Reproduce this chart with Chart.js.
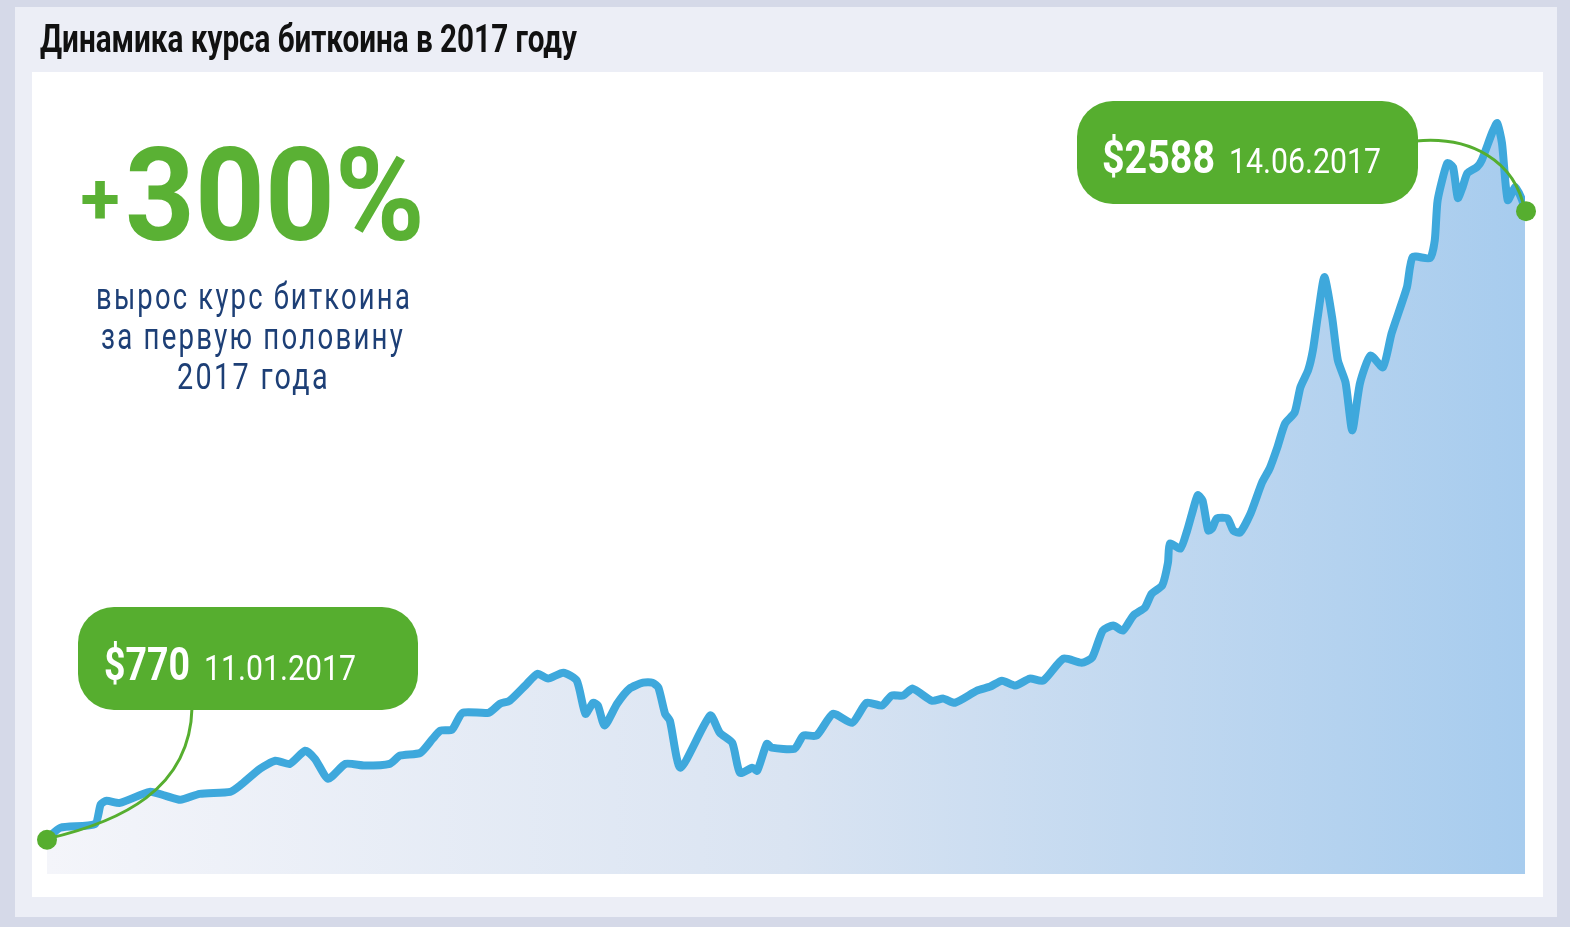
<!DOCTYPE html>
<html lang="ru">
<head>
<meta charset="utf-8">
<title>Динамика курса биткоина в 2017 году</title>
<script src="https://cdn.jsdelivr.net/npm/chart.js@4.4.1/dist/chart.umd.min.js"></script>
<style>
    body { margin: 0; background: #d5d9e8; }
    #btcChart { display: block; }
</style>
</head>
<body>
<canvas id="btcChart" width="1570" height="927"></canvas>
<script>
const chart = document.getElementById('btcChart').getContext('2d');

// days since 11.01.2017 and the price in $
const days = [
    0, 1.4, 5.0, 5.6, 6.2, 7.6, 10.7, 12.3, 13.9, 15.9, 19.1, 20.1, 22.2, 23.8, 25.3, 26.9, 27.9, 29.3,
    31.1, 33.1, 35.7, 36.8, 38.9, 40.2, 41.0, 42.2, 43.3, 46.0, 47.2, 48.2, 50.0, 51.1, 52.2, 53.8,
    55.2, 56.1, 56.9, 57.4, 58.1, 59.4, 60.7, 62.1, 63.1, 63.7, 64.4, 64.9, 66.0, 69.1, 70.1, 71.4,
    72.2, 73.5, 74.0, 75.0, 75.5, 77.9, 78.8, 80.2, 81.9, 83.9, 85.4, 87.0, 88.0, 89.2, 90.2, 92.2,
    93.4, 94.6, 96.9, 98.3, 99.5, 100.9, 102.4, 103.8, 105.9, 107.8, 108.9, 110.0, 111.1, 112.1,
    113.2, 114.4, 115.1, 116.2, 116.8, 117.0, 118.1, 118.8, 119.3, 119.9, 120.4, 121.0, 121.4, 121.9,
    123.0, 123.6, 124.3, 125.4, 126.6, 127.4, 128.2, 129.0, 130.0, 130.6, 131.4, 131.9, 132.4, 133.1,
    133.9, 134.5, 135.3, 136.0, 136.8, 137.9, 139.2, 140.1, 141.7, 142.3, 144.1, 144.6, 144.9, 145.9,
    146.5, 147.0, 147.5, 148.0, 149.0, 149.5, 150.6, 151.1, 151.6, 152.2, 153.0, 153.7, 154
];
const prices = [
    770, 802, 813, 870, 880, 874, 906, 895, 883, 900, 906, 924, 973, 996, 987, 1025, 1002, 944,
    987, 982, 987, 1011, 1019, 1060, 1083, 1086, 1135, 1135, 1161, 1170, 1219, 1248, 1234, 1251,
    1228, 1132, 1164, 1156, 1098, 1161, 1205, 1222, 1222, 1208, 1132, 1112, 976, 1127, 1077, 1048,
    961, 976, 967, 1045, 1034, 1031, 1069, 1069, 1132, 1106, 1164, 1156, 1185, 1185, 1205, 1170,
    1176, 1164, 1199, 1211, 1228, 1214, 1234, 1228, 1292, 1280, 1295, 1373, 1388, 1373,
    1417, 1440, 1480, 1504, 1570, 1625, 1611, 1663, 1712, 1765, 1750, 1663, 1669, 1698,
    1698, 1663, 1657, 1712, 1802, 1843, 1904, 1973, 2005, 2078, 2127, 2185, 2281, 2397,
    2281, 2156, 2092, 1953, 2089, 2170, 2136, 2234, 2368, 2455, 2452, 2504, 2620, 2727,
    2716, 2626, 2658, 2698, 2716, 2736, 2817, 2843, 2785, 2620, 2658, 2620, 2588
];

// texts
const titleText = 'Динамика курса биткоина в 2017 году';
const bigText = '300%';
const subLines = ['вырос курс биткоина', 'за первую половину', '2017 года'];
const startPrice = '$770';
const startDate = '11.01.2017';
const endPrice = '$2588';
const endDate = '14.06.2017';

const GREEN = '#56ae2f';
const NAVY = '#1d3f76';
// no condensed face here, so a normal one gets squeezed to width
const FACE = 'Roboto, "Liberation Sans", sans-serif';

// squeeze a text into a given width (the picture uses a condensed face)
function fitText(ctx, text, x, y, width, font, color, spacing) {
    ctx.save();
    ctx.font = font;
    ctx.letterSpacing = spacing || '0px';
    const w = ctx.measureText(text).width;
    ctx.translate(x, y);
    ctx.scale(width / w, 1);
    ctx.fillStyle = color;
    ctx.textBaseline = 'alphabetic';
    ctx.textAlign = 'left';
    ctx.fillText(text, 0, 0);
    ctx.restore();
}

// grey frame + white card behind everything
const backgroundPlugin = {
    id: 'cardBackground',
    beforeDraw(c) {
        const ctx = c.ctx;
        ctx.save();
        ctx.fillStyle = '#d5d9e8';
        ctx.fillRect(0, 0, c.width, c.height);
        ctx.fillStyle = '#eceef6';
        ctx.fillRect(15, 7, 1542, 910);
        ctx.fillStyle = '#ffffff';
        ctx.fillRect(32, 72, 1511, 825);
        ctx.restore();
        fitText(ctx, titleText, 40, 52, 537, 'bold 38px ' + FACE, '#111111');
    }
};

// green callouts, connectors, big +300% and the caption
const calloutPlugin = {
    id: 'callouts',
    afterDatasetsDraw(c) {
        const ctx = c.ctx;
        const xs = c.scales.x;
        const ys = c.scales.y;
        const last = days.length - 1;
        const p0 = { x: xs.getPixelForValue(days[0]), y: ys.getPixelForValue(prices[0]) };
        const p1 = { x: xs.getPixelForValue(days[last]), y: ys.getPixelForValue(prices[last]) };

        ctx.save();
        // boxes
        ctx.fillStyle = GREEN;
        ctx.beginPath();
        ctx.roundRect(78, 607, 340, 103, 36);
        ctx.fill();
        ctx.beginPath();
        ctx.roundRect(1077, 101, 341, 103, 36);
        ctx.fill();

        // connector lines
        ctx.strokeStyle = GREEN;
        ctx.lineWidth = 3;
        ctx.beginPath();
        ctx.moveTo(192, 708);
        ctx.bezierCurveTo(190, 790, 120, 822, p0.x, p0.y);
        ctx.stroke();
        ctx.beginPath();
        ctx.moveTo(1416, 141);
        ctx.bezierCurveTo(1470, 136, 1515, 160, p1.x, p1.y);
        ctx.stroke();

        // dots on first / last point
        ctx.fillStyle = GREEN;
        ctx.beginPath();
        ctx.arc(p0.x, p0.y + 1, 10, 0, Math.PI * 2);
        ctx.fill();
        ctx.beginPath();
        ctx.arc(p1.x + 1, p1.y, 10, 0, Math.PI * 2);
        ctx.fill();
        ctx.restore();

        // callout labels
        fitText(ctx, startPrice, 104, 680, 86, 'bold 46px ' + FACE, '#ffffff');
        fitText(ctx, startDate, 204, 680, 152, '35px ' + FACE, '#ffffff');
        fitText(ctx, endPrice, 1102, 173, 113, 'bold 46px ' + FACE, '#ffffff');
        fitText(ctx, endDate, 1229, 173, 152, '35px ' + FACE, '#ffffff');

        // +300%
        ctx.save();
        ctx.font = 'bold 72px ' + FACE;
        ctx.fillStyle = '#5ab134';
        ctx.textAlign = 'center';
        ctx.fillText('+', 100, 224);
        ctx.restore();
        fitText(ctx, bigText, 125, 240, 300, 'bold 130px ' + FACE, '#5ab134');

        // caption under it
        fitText(ctx, subLines[0], 96, 309, 316, '37px ' + FACE, NAVY, '3px');
        fitText(ctx, subLines[1], 101, 349, 304, '37px ' + FACE, NAVY, '3px');
        fitText(ctx, subLines[2], 177, 389, 153, '37px ' + FACE, NAVY, '3px');
    }
};

const points = days.map((d, i) => ({ x: d, y: prices[i] }));

const btcChart = new Chart(chart, {
    type: 'line',
    data: {
        datasets: [{
            label: 'BTC',
            data: points,
            borderColor: '#3ea8dc',
            borderWidth: 8,
            borderJoinStyle: 'round',
            borderCapStyle: 'round',
            pointRadius: 0,
            tension: 0.2,
            fill: 'start',
            // light at the left, blue at the right
            backgroundColor: (ctx) => {
                const area = ctx.chart.chartArea;
                if (!area) return '#dfe8f4';
                const g = ctx.chart.ctx.createLinearGradient(area.left, 0, area.right, 0);
                g.addColorStop(0, '#f4f5fa');
                g.addColorStop(0.5, '#dae4f2');
                g.addColorStop(1, '#a7ccee');
                return g;
            }
        }]
    },
    options: {
        responsive: false,
        animation: false,
        layout: {
            padding: { left: 47, right: 45, top: 100, bottom: 53 }
        },
        plugins: {
            legend: { display: false },
            title: { display: false },
            tooltip: { enabled: false }
        },
        scales: {
            x: { type: 'linear', min: 0, max: 154, display: false },
            y: { type: 'linear', min: 668, max: 2910, display: false }
        }
    },
    plugins: [backgroundPlugin, calloutPlugin]
});
</script>
</body>
</html>
